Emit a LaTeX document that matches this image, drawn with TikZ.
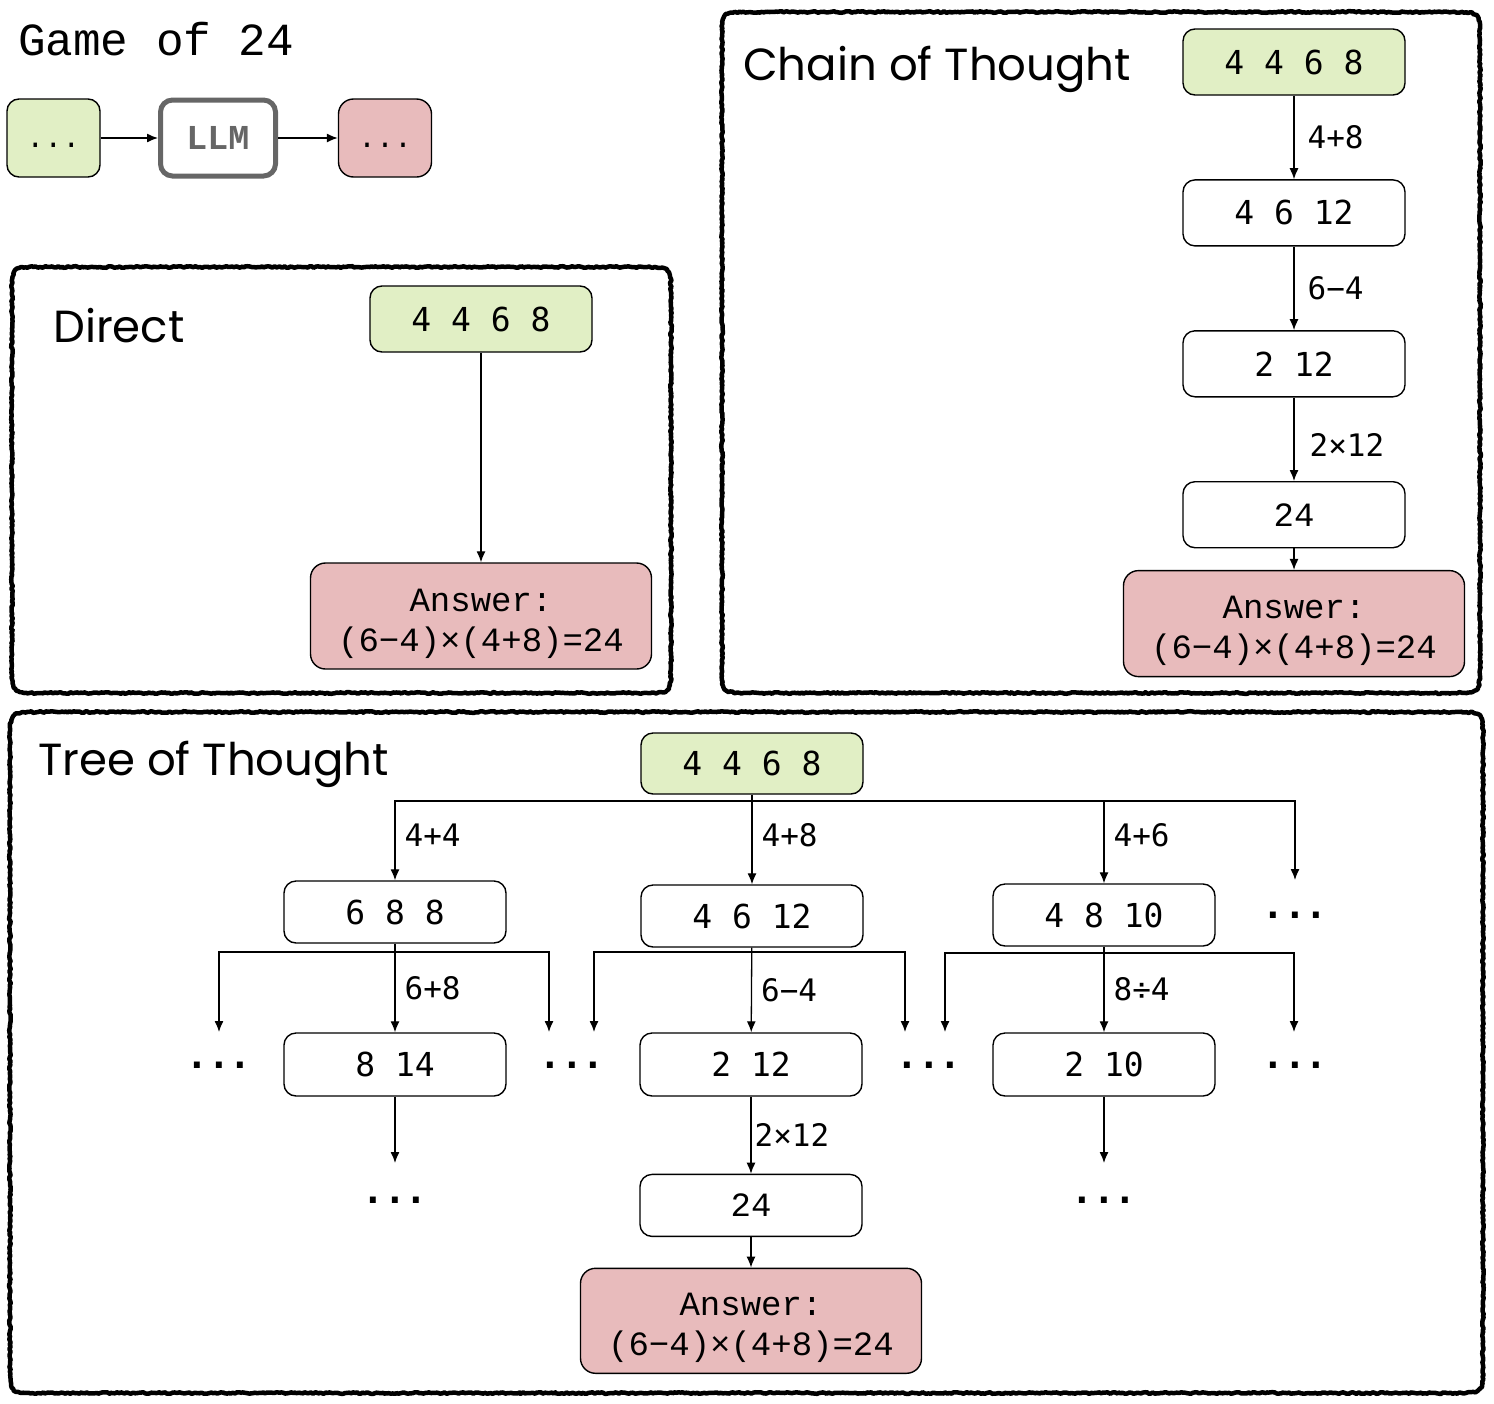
\documentclass[tikz,border=0pt]{standalone}
\usepackage{fontspec}
\setmainfont{Poppins}
\newfontfamily\numfont{DejaVu Sans Mono}
\newfontfamily\courfont{Liberation Mono}
\newfontfamily\titlefont{Poppins}
\usetikzlibrary{shapes.geometric, arrows.meta, positioning, decorations.pathmorphing}
\definecolor{startgreen}{HTML}{E1EFC5}
\definecolor{answerred}{HTML}{E8BBBC}
\definecolor{llmgray}{HTML}{666666}
\tikzstyle{start} = [rectangle, rounded corners=12pt, draw, line width=1.4pt, minimum width=222pt, minimum height=66pt, text centered, fill=startgreen, font=\numfont\fontsize{33}{40}\selectfont]
\tikzstyle{state} = [rectangle, rounded corners=12pt, draw, line width=1.4pt, minimum width=222pt, minimum height=66pt, text centered, fill=white, font=\numfont\fontsize{33}{40}\selectfont]
\tikzstyle{answer} = [rectangle, rounded corners=15pt, draw, line width=1.4pt, minimum width=341pt, minimum height=106pt, align=center, fill=answerred, font=\courfont\fontsize{34}{40}\selectfont]
\tikzstyle{more} = [anchor=base, inner sep=0pt, font=\numfont\bfseries\fontsize{36}{40}\selectfont]
\tikzstyle{oplabel} = [inner sep=1pt, font=\numfont\fontsize{31}{36}\selectfont]
\tikzstyle{title} = [anchor=base west, inner sep=0pt, font=\titlefont\fontsize{45}{50}\selectfont]
\tikzstyle{move} = [line width=1.3pt, -{Latex[length=11pt, width=9pt]}]
\tikzstyle{branch} = [line width=1.3pt]
\tikzstyle{panel} = [line width=4.5pt, line join=round, decorate, decoration={random steps, segment length=2pt, amplitude=0.8pt}]
\newcommand{\roughpanel}[4]{%
  \draw [panel] (#1,#2+28) .. controls (#1,#2) .. (#1+28,#2) -- (#3-28,#2) .. controls (#3,#2) .. (#3,#2+28) -- (#3,#4-28) .. controls (#3,#4) .. (#3-28,#4) -- (#1+28,#4) .. controls (#1,#4) .. (#1,#4-28) -- cycle;}
\begin{document}
\begin{tikzpicture}[x=1pt, y=-1pt, node distance=83.5pt]
  \useasboundingbox (0,0) rectangle (1494,1403);
  \pgfmathsetseed{7}
  %Game of 24
  \node (game) [anchor=base west, inner sep=0pt, font=\courfont\fontsize{46}{50}\selectfont] at (18,55) {Game of 24};
  \node (in) [start, minimum width=93pt, minimum height=78pt, font=\courfont\fontsize{30}{36}\selectfont] at (53.5,138) {\vphantom{A}...};
  \node (llm) [rectangle, rounded corners=12pt, draw=llmgray, line width=5pt, minimum width=115pt, minimum height=76pt, text=llmgray, font=\courfont\bfseries\fontsize{35}{40}\selectfont] at (218,138) {LLM};
  \node (out) [answer, minimum width=93pt, minimum height=78pt, font=\courfont\fontsize{30}{36}\selectfont] at (385,138) {\vphantom{A}...};
  \draw [move] (in) -- (llm);
  \draw [move] (llm) -- (out);
  %Direct
  \roughpanel{12}{267}{671}{693}
  \node (dtitle) [title] at (53,342) {Direct};
  \node (d0) [start] at (481,319) {4 4 6 8};
  \node (d1) [answer] at (481,616) {\vphantom{A}\\[-25pt]Answer:\\(6−4)×(4+8)=24};
  \draw [move] (d0) -- (d1);
  %Chain of Thought
  \roughpanel{722}{12}{1480}{693}
  \node (ctitle) [title] at (743,80) {Chain of Thought};
  \node (c0) [start] at (1294,62) {4 4 6 8};
  \node (c1) [state, below=of c0] {4 6 12};
  \node (c2) [state, below=of c1] {2 12};
  \node (c3) [state, below=of c2, font=\courfont\fontsize{34}{40}\selectfont] {24};
  \node (c4) [answer, below=21.5pt of c3] {\vphantom{A}\\[-25pt]Answer:\\(6−4)×(4+8)=24};
  \draw [move] (c0) -- node[oplabel, right=12pt] {4+8} (c1);
  \draw [move] (c1) -- node[oplabel, right=12pt] {6−4} (c2);
  \draw [move] (c2) -- node[oplabel, right=14pt, yshift=-6pt] {2×12} (c3);
  \draw [move] (c3) -- (c4);
  %Tree of Thought
  \roughpanel{10}{712}{1483}{1393}
  \node (ttitle) [title] at (38,775) {Tree of Thought};
  \node (t0) [start, minimum height=61pt] at (752,763.5) {4 4 6 8};
  \coordinate (tsplit) at (752,801);
  \node (ta) [state, minimum height=62pt] at (395,912) {6 8 8};
  \node (tb) [state, minimum height=62pt] at (752,916) {4 6 12};
  \node (tc) [state, minimum height=62pt] at (1104,915) {4 8 10};
  \coordinate (tdend) at (1295,880);
  \node (tdmore) [more] at (1295,918) {...};
  \draw [branch] (t0) -- (tsplit);
  \draw [move] (tsplit) -| node[oplabel, pos=0.75, right=8pt, yshift=5pt] {4+4} (ta);
  \draw [move] (tsplit) -- node[oplabel, right=8pt, yshift=7pt] {4+8} (tb);
  \draw [move] (tsplit) -| node[oplabel, pos=0.75, right=8pt, yshift=7pt] {4+6} (tc);
  \draw [move] (tsplit) -| (tdend);
  % second level
  \node (ta2) [state, minimum height=63pt] at (395,1064.5) {8 14};
  \node (tb2) [state, minimum height=63pt] at (751,1064.5) {2 12};
  \node (tc2) [state, minimum height=63pt] at (1104,1064.5) {2 10};
  \coordinate (tasplit) at (395,952);
  \coordinate (tbsplit) at (751,952);
  \coordinate (tcsplit) at (1104,953);
  \coordinate (taL) at (219,1032);
  \coordinate (taR) at (549,1032);
  \coordinate (tbL) at (594,1032);
  \coordinate (tbR) at (905,1032);
  \coordinate (tcL) at (945,1032);
  \coordinate (tcR) at (1294,1032);
  \node (amore) [more] at (219,1068) {...};
  \node (abmore) [more] at (572,1068) {...};
  \node (bcmore) [more] at (929,1068) {...};
  \node (cmore) [more] at (1295,1068) {...};
  \draw [move] (ta) -- node[oplabel, right=8pt] {6+8} (ta2);
  \draw [move] (tasplit) -| (taL);
  \draw [move] (tasplit) -| (taR);
  \draw [move] (tb) -- node[oplabel, right=8pt] {6−4} (tb2);
  \draw [move] (tbsplit) -| (tbL);
  \draw [move] (tbsplit) -| (tbR);
  \draw [move] (tc) -- node[oplabel, right=8pt] {8÷4} (tc2);
  \draw [move] (tcsplit) -| (tcL);
  \draw [move] (tcsplit) -| (tcR);
  % third level
  \node (tb3) [state, minimum height=62pt, below=77pt of tb2, font=\courfont\fontsize{34}{40}\selectfont] {24};
  \node (t4) [answer, minimum height=105pt, below=30.5pt of tb3] {\vphantom{A}\\[-25pt]Answer:\\(6−4)×(4+8)=24};
  \coordinate (taend) at (395,1163);
  \coordinate (tcend) at (1104,1163);
  \node (a3more) [more] at (395,1203) {...};
  \node (c3more) [more] at (1104,1203) {...};
  \draw [move] (ta2) -- (taend);
  \draw [move] (tb2) -- node[oplabel, right=2pt] {2×12} (tb3);
  \draw [move] (tc2) -- (tcend);
  \draw [move] (tb3) -- (t4);
\end{tikzpicture}
\end{document}
